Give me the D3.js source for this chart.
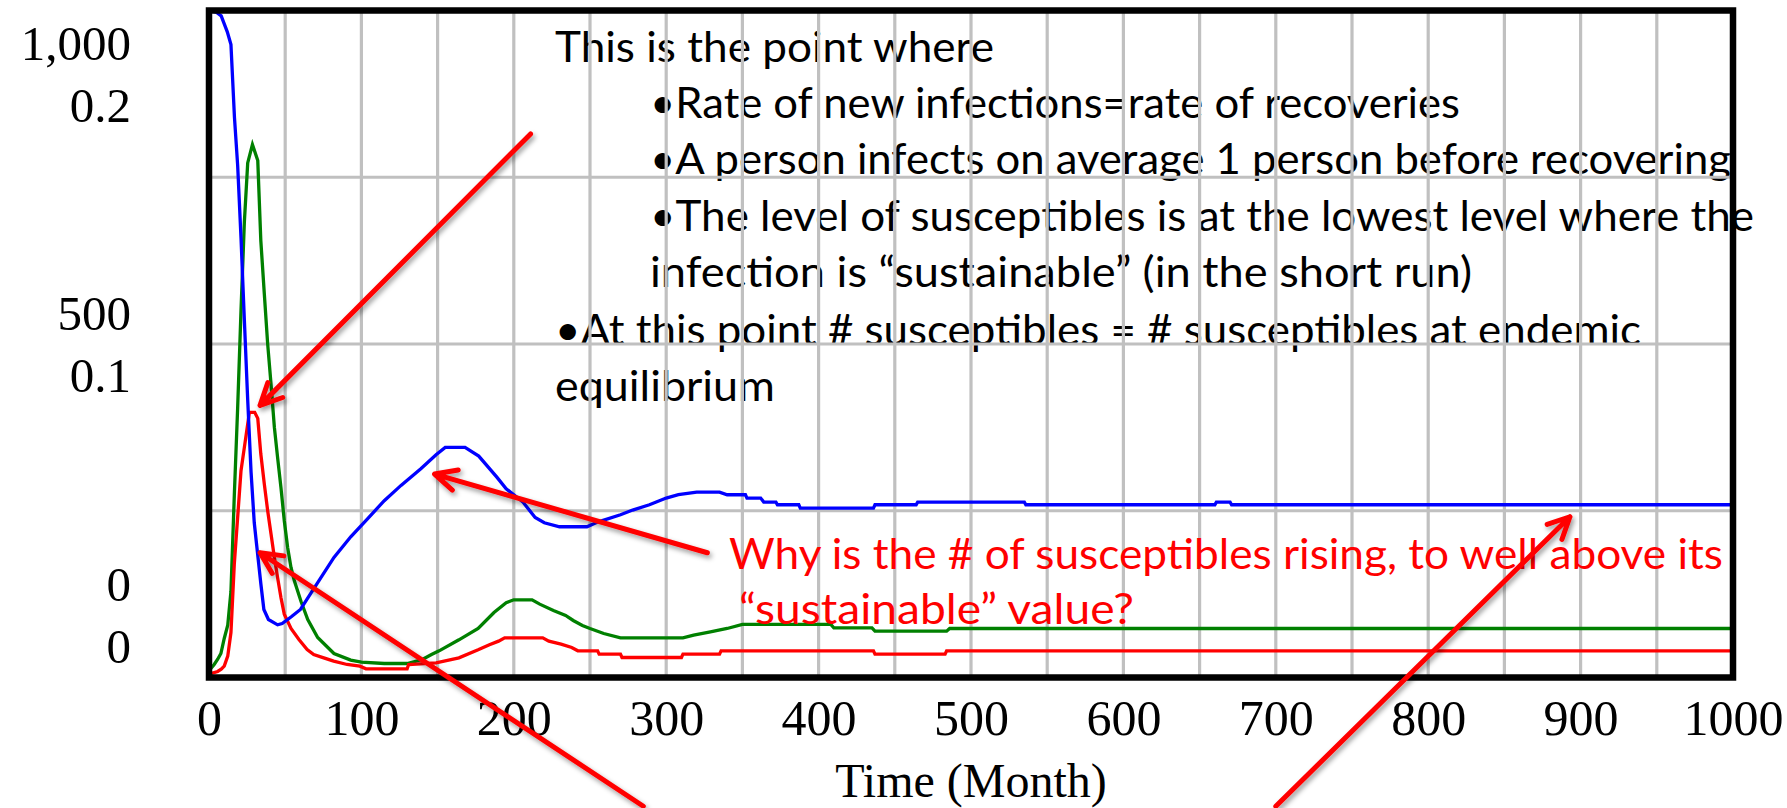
<!DOCTYPE html>
<html>
<head>
<meta charset="utf-8">
<script src="https://cdn.jsdelivr.net/npm/d3@7"></script>
<style>
  body { margin: 0; background: #fff; }
  svg { display: block; }
</style>
</head>
<body>
<svg id="chart" width="1787" height="808"></svg>
<script>
// Vensim-style run: susceptibles (blue, 0-1000) and two rates (green, red, 0-0.2)

const timeTicks = [0, 100, 200, 300, 400, 500, 600, 700, 800, 900, 1000];
const susceptibleTicks = [0, 500, 1000];
const rateTicks = [0, 0.1, 0.2];

// blue: susceptibles
const susT = [0, 5, 8, 10, 12, 14.4, 16.7, 18.8, 21, 23.2, 25.4, 27.6, 29.7, 32, 34, 36, 39, 45, 48, 54, 60, 71, 82, 93, 104,
  115, 126, 139, 149, 155, 168, 177, 189, 195, 206, 214, 220, 230, 248, 255, 270, 278, 289, 300, 308, 320, 335, 340, 352,
  353, 362, 364, 372, 373, 387, 388, 436, 437, 464, 465, 535, 536, 660, 661, 670, 671, 1000];
const susV = [1000, 997, 992, 980, 968, 949, 840, 768, 659, 536, 416, 308, 232, 183, 141, 102, 87, 79, 81, 91, 102, 141, 180, 211, 238,
  265, 288, 313, 334, 345, 345, 332, 300, 283, 263, 240, 232, 226, 226, 233, 244, 251, 259, 269, 274, 278, 278, 274, 274,
  269, 269, 263, 263, 259, 259, 254, 254, 259, 259, 263, 263, 259, 259, 263, 263, 259, 259];

// green
const greenT = [0, 3.4, 5.6, 7.8, 10, 12.3, 14.4, 16.6, 18.8, 21, 23.2, 25.4, 28.5, 32, 34, 36.3, 38.5, 40.7, 42.9, 45, 47.2,
  49.4, 51.6, 53.8, 56, 60.4, 64.8, 71.3, 82, 93, 100, 115, 130, 140, 146, 151, 164, 176.6, 187, 195, 200, 212, 217, 226,
  234, 239, 245, 250, 259, 270, 311, 318, 329, 340, 350, 408, 410, 435, 437, 484, 486, 1000];
const greenV = [0.002, 0.0039, 0.0054, 0.0072, 0.0117, 0.0157, 0.0258, 0.0545, 0.0808, 0.110, 0.1365, 0.1543, 0.1598, 0.155,
  0.131, 0.115, 0.100, 0.088, 0.075, 0.066, 0.057, 0.047, 0.039, 0.033, 0.029, 0.0228, 0.0174, 0.012, 0.0072, 0.0052, 0.0046,
  0.0042, 0.0042, 0.0054, 0.0069, 0.008, 0.0113, 0.0147, 0.0195, 0.0224, 0.0233, 0.0233, 0.0220, 0.0201, 0.0186, 0.0171,
  0.0156, 0.0147, 0.0132, 0.0119, 0.0119, 0.0127, 0.0137, 0.0147, 0.0159, 0.0159, 0.0149, 0.0149, 0.0139, 0.0139, 0.0147, 0.0147];

// red
const redT = [0, 5.7, 8, 10, 12.3, 14.4, 16.6, 18.8, 21, 23.2, 26.5, 30, 32, 34, 36.3, 38.5, 40.7, 42.9, 45, 47.2, 49.4, 53.8,
  59, 64.4, 68.7, 75.3, 81.8, 90.6, 99, 103, 130, 131, 149, 164, 176.6, 184, 190, 194, 219, 223, 231, 238, 242, 255, 256,
  270, 271, 310, 311, 335, 336, 436, 437, 483, 484, 1000];
const redV = [0.001, 0.0018, 0.0025, 0.0034, 0.0064, 0.0135, 0.034, 0.048, 0.062, 0.069, 0.0795, 0.0795, 0.0777, 0.067, 0.058,
  0.050, 0.043, 0.036, 0.030, 0.024, 0.019, 0.0147, 0.0114, 0.0084, 0.0069, 0.0059, 0.0049, 0.0039, 0.0034, 0.0026, 0.0026,
  0.0039, 0.0044, 0.0059, 0.0083, 0.0098, 0.0109, 0.0119, 0.0119, 0.0109, 0.0100, 0.0090, 0.0080, 0.0080, 0.0070, 0.0070,
  0.0060, 0.0060, 0.0070, 0.0070, 0.0080, 0.0080, 0.0070, 0.0070, 0.0080, 0.0080];

const noteLines = [
  'This is the point where',
  '\u2022Rate of new infections=rate of recoveries',
  '\u2022A person infects on average 1 person before recovering',
  '\u2022The level of susceptibles is at the lowest level where the',
  'infection is \u201csustainable\u201d (in the short run)',
  '\u2022At this point # susceptibles = # susceptibles at endemic',
  'equilibrium'
];
const questionLines = [
  'Why is the # of susceptibles rising, to well above its',
  '\u201csustainable\u201d value?'
];

// arrows as [time, susceptibles] pairs: tail then tip
const arrowTails = [[211, 815], [327, 187], [285, -193], [700, -193]];
const arrowTips = [[33.5, 408], [148, 305], [33.5, 187], [893, 241]];

// ---------------------------------------------------------------

const width = 1787, height = 808;
const plotLeft = 209, plotRight = 1733, plotTop = 10.5, plotBottom = 677.5;

const svg = d3.select('#chart');

const defs = svg.append('defs');
const shadow = defs.append('filter').attr('id', 'shadow')
    .attr('x', '-20%').attr('y', '-20%').attr('width', '140%').attr('height', '140%');
shadow.append('feDropShadow')
    .attr('dx', 2).attr('dy', 3).attr('stdDeviation', 2.5)
    .attr('flood-color', '#000').attr('flood-opacity', 0.4);

const x = d3.scaleLinear().domain([0, 1000]).range([plotLeft, plotRight]);
const ySus = d3.scaleLinear().domain([0, 1000]).range([plotBottom, plotTop]);
const yRate = d3.scaleLinear().domain([0, 0.2]).range([plotBottom, plotTop]);

// black note text sits under the graph
const noteLayout = [
  { x: 555, y: 62, w: 439 },
  { x: 650, y: 118, w: 810 },
  { x: 650, y: 174, w: 1081 },
  { x: 650, y: 230.5, w: 1104 },
  { x: 650, y: 287, w: 822 },
  { x: 555, y: 345, w: 1086 },
  { x: 555, y: 401, w: 220 }
];

svg.append('g').selectAll('text')
  .data(noteLines)
  .join('text')
    .attr('x', (d, i) => noteLayout[i].x)
    .attr('y', (d, i) => noteLayout[i].y)
    .attr('textLength', (d, i) => noteLayout[i].w)
    .attr('lengthAdjust', 'spacingAndGlyphs')
    .style('font-family', 'Lato, "Open Sans", sans-serif')
    .style('font-size', '42px')
    .attr('fill', '#000')
    .text(d => d);

// grid
const grid = svg.append('g').attr('stroke', '#c0c0c0').attr('stroke-width', 3.2);
grid.selectAll('line.v')
  .data(d3.range(50, 1000, 50))
  .join('line')
    .attr('class', 'v')
    .attr('x1', d => x(d)).attr('x2', d => x(d))
    .attr('y1', plotTop).attr('y2', plotBottom);
grid.selectAll('line.h')
  .data([250, 500, 750])
  .join('line')
    .attr('class', 'h')
    .attr('x1', plotLeft).attr('x2', plotRight)
    .attr('y1', d => ySus(d)).attr('y2', d => ySus(d));

// series
const lineSus = d3.line().x(d => x(d[0])).y(d => ySus(d[1]));
const lineRate = d3.line().x(d => x(d[0])).y(d => yRate(d[1]));

svg.append('path')
    .datum(d3.zip(greenT, greenV))
    .attr('d', lineRate)
    .attr('fill', 'none').attr('stroke', '#008000').attr('stroke-width', 3.3);
svg.append('path')
    .datum(d3.zip(redT, redV))
    .attr('d', lineRate)
    .attr('fill', 'none').attr('stroke', '#ff0000').attr('stroke-width', 3.3);
svg.append('path')
    .datum(d3.zip(susT, susV))
    .attr('d', lineSus)
    .attr('fill', 'none').attr('stroke', '#0000ff').attr('stroke-width', 3.3);

// frame
svg.append('rect')
    .attr('x', plotLeft).attr('y', plotTop)
    .attr('width', plotRight - plotLeft).attr('height', plotBottom - plotTop)
    .attr('fill', 'none').attr('stroke', '#000').attr('stroke-width', 6.5);

// time axis
const xAxis = svg.append('g')
    .attr('transform', `translate(0,${plotBottom})`)
    .call(d3.axisBottom(x).tickValues(timeTicks).tickSize(0).tickPadding(22).tickFormat(d3.format('d')));
xAxis.select('.domain').remove();
xAxis.selectAll('text')
    .style('font-family', '"Liberation Serif", "Times New Roman", serif')
    .style('font-size', '50px')
    .attr('fill', '#000');

svg.append('text')
    .attr('x', (plotLeft + plotRight) / 2)
    .attr('y', 797)
    .attr('text-anchor', 'middle')
    .style('font-family', '"Liberation Serif", "Times New Roman", serif')
    .style('font-size', '48px')
    .text('Time (Month)');

// stacked scale labels, Vensim style: pulled inward at the ends
const fmtSus = d3.format(',');
const fmtRate = d => d === 0 ? '0' : d3.format('.1f')(d);
const scaleLabels = [];
susceptibleTicks.forEach((v, i) => {
  const pos = ySus(v);
  const frac = v / 1000;
  const c = pos + 63 * (2 * frac - 1);
  scaleLabels.push({ text: fmtSus(v), y: c - 31 });
  scaleLabels.push({ text: fmtRate(rateTicks[i]), y: c + 31 });
});
svg.append('g').selectAll('text')
  .data(scaleLabels)
  .join('text')
    .attr('x', 131)
    .attr('y', d => d.y)
    .attr('dy', '0.35em')
    .attr('text-anchor', 'end')
    .style('font-family', '"Liberation Serif", "Times New Roman", serif')
    .style('font-size', '49px')
    .text(d => d.text);

// red question
const questionLayout = [
  { x: 729, y: 569, w: 994 },
  { x: 739, y: 624, w: 395 }
];
svg.append('g').selectAll('text')
  .data(questionLines)
  .join('text')
    .attr('x', (d, i) => questionLayout[i].x)
    .attr('y', (d, i) => questionLayout[i].y)
    .attr('textLength', (d, i) => questionLayout[i].w)
    .attr('lengthAdjust', 'spacingAndGlyphs')
    .style('font-family', 'Lato, "Open Sans", sans-serif')
    .style('font-size', '42px')
    .attr('fill', '#ff0000')
    .text(d => d);

// arrows
const arrows = svg.append('g')
    .attr('filter', 'url(#shadow)')
    .attr('stroke', '#ff0000')
    .attr('stroke-width', 5)
    .attr('fill', 'none')
    .attr('stroke-linecap', 'round')
    .attr('stroke-linejoin', 'round');

arrowTails.forEach((tail, i) => {
  const x0 = x(tail[0]), y0 = ySus(tail[1]);
  const x1 = x(arrowTips[i][0]), y1 = ySus(arrowTips[i][1]);
  const ang = Math.atan2(y0 - y1, x0 - x1);
  const len = 24, spread = 26 * Math.PI / 180;
  const wing = s => [x1 + len * Math.cos(ang + s), y1 + len * Math.sin(ang + s)];
  arrows.append('path')
      .attr('d', d3.line()([[x0, y0], [x1, y1]]) + d3.line()([wing(spread), [x1, y1], wing(-spread)]));
});
</script>
</body>
</html>
